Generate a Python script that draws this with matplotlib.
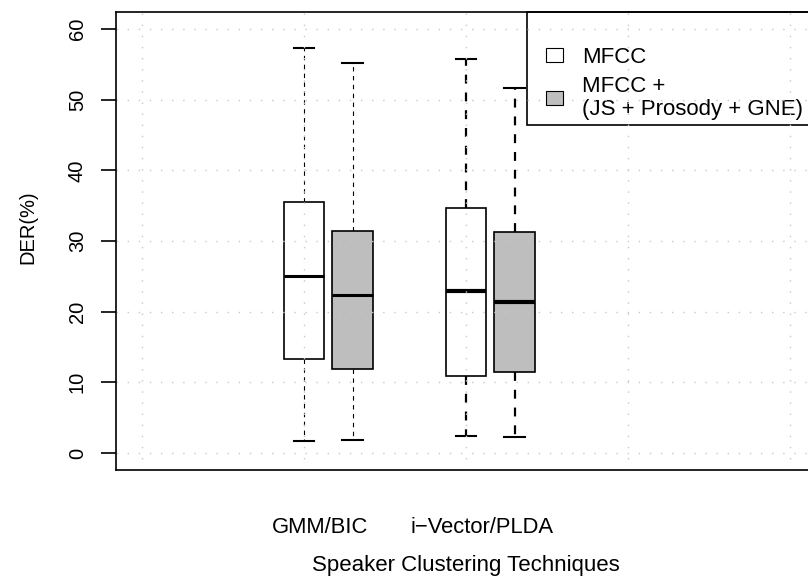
import matplotlib
matplotlib.use('Agg')
import matplotlib.pyplot as plt
from matplotlib.patches import Patch, Rectangle

# ---------------- data ----------------
techniques = ['GMM/BIC', 'i\u2212Vector/PLDA']
features = ['MFCC', 'MFCC +\n(JS + Prosody + GNE)']
whislo = [1.7, 1.8, 2.4, 2.3]
q1 = [13.3, 11.9, 10.9, 11.4]
med = [25.0, 22.3, 22.9, 21.3]
q3 = [35.5, 31.4, 34.6, 31.3]
whishi = [57.3, 55.2, 55.8, 51.6]
yticks = [0, 10, 20, 30, 40, 50, 60]

# ---------------- style ----------------
positions = [1.0, 1.3, 2.0, 2.3]
label_pos = [1.1, 2.1]
fills = ['white', '#BEBEBE', 'white', '#BEBEBE']
whisk_lw = [0.8, 0.8, 1.6, 1.6]
med_lw = [2.2, 2.2, 3.0, 3.0]

plt.rcParams['font.family'] = ['Liberation Sans', 'DejaVu Sans']

W, H = 808, 576
fig = plt.figure(figsize=(W / 100, H / 100), dpi=100)
left, right, top, bottom = 116, 816, 12, 470
ax = fig.add_axes([left / W, 1 - bottom / H, (right - left) / W, (bottom - top) / H])
ax.set_xlim(-0.16, 4.16)
ax.set_ylim(-2.4, 62.4)

stats = []
for i in range(len(med)):
    stats.append(dict(med=med[i], q1=q1[i], q3=q3[i], whislo=whislo[i], whishi=whishi[i], fliers=[]))

art = ax.bxp(stats, positions=positions, widths=0.25, patch_artist=True,
             showfliers=False, manage_ticks=False)
for i, b in enumerate(art['boxes']):
    b.set_facecolor(fills[i])
    b.set_edgecolor('black')
    b.set_linewidth(1.2)
    b.set_zorder(2)
for i, m in enumerate(art['medians']):
    m.set_color('black')
    m.set_linewidth(med_lw[i])
    m.set_solid_capstyle('butt')
    m.set_zorder(2.5)
for j, w in enumerate(art['whiskers']):
    i = j // 2
    w.set_color('black')
    w.set_linewidth(whisk_lw[i])
    w.set_linestyle((0, (4, 4)))
    w.set_zorder(1)
for j, c in enumerate(art['caps']):
    i = j // 2
    c.set_color('black')
    c.set_linewidth(1.5)
    c.set_xdata([positions[i] - 0.0625, positions[i] + 0.0625])

# legend frame (R-style, anchored at the top-right corner of the plot region)
frame = Rectangle((527 / W, 1 - 125 / H), (816 - 527) / W, (125 - 12) / H,
                  transform=fig.transFigure, facecolor='white', edgecolor='black',
                  lw=1.2, zorder=3, clip_on=False)
ax.add_patch(frame)
handles = [Patch(facecolor=fills[0], edgecolor='black', lw=0.8),
           Patch(facecolor=fills[1], edgecolor='black', lw=0.8)]
leg = ax.legend(handles, features, loc='upper left',
                bbox_to_anchor=(546 / W, 1 - 47 / H), bbox_transform=fig.transFigure,
                frameon=False, fontsize=16, handlelength=0.78, handleheight=0.6,
                handletextpad=0.85, borderpad=0, borderaxespad=0, labelspacing=0.35)
for t in leg.get_texts():
    t.set_linespacing(1.15)
leg.set_zorder(3.5)

# grid (drawn over boxes and legend, as in R)
for gx in range(0, 5):
    ax.axvline(gx, color='#c8c8c8', lw=1.0, linestyle=(0, (1, 7)), zorder=4)
for gy in yticks:
    ax.axhline(gy, color='#c8c8c8', lw=1.0, linestyle=(0, (1, 7)), zorder=4)

for s in ax.spines.values():
    s.set_linewidth(1.2)
    s.set_zorder(5)

ax.set_yticks(yticks)
ax.set_yticklabels([str(v) for v in yticks], rotation=90, va='center', fontsize=14.5)
ax.tick_params(axis='y', length=11, width=1.2, pad=10)
ax.set_xticks(label_pos)
ax.set_xticklabels(techniques, fontsize=15.8)
ax.tick_params(axis='x', length=0, pad=34)

fig.text(466 / W, 1 - 566 / H, 'Speaker Clustering Techniques', ha='center', va='center', fontsize=16)
fig.text(28 / W, 1 - 227 / H, 'DER(%)', ha='center', va='center', rotation=90, fontsize=14.5)

fig.savefig('out.png', dpi=100)
